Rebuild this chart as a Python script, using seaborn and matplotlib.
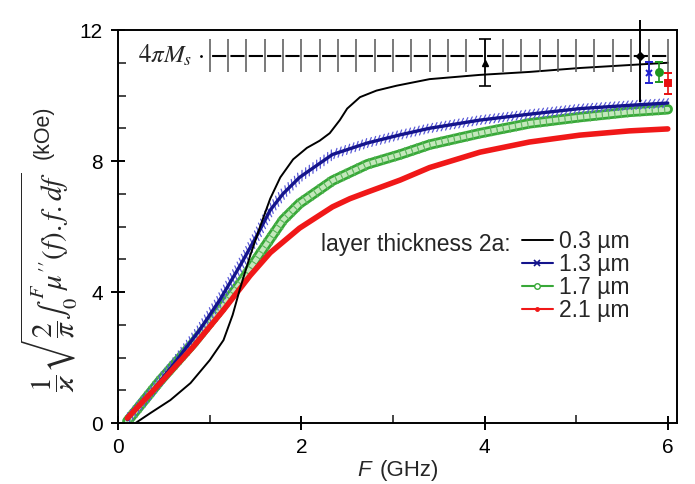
import numpy as np
import pandas as pd
import matplotlib
matplotlib.use("Agg")
import matplotlib.pyplot as plt
import matplotlib.patheffects as pe
from matplotlib.lines import Line2D
import seaborn as sns

# ---------------- data ----------------
bk_x = [0.19, 0.35, 0.57, 0.79, 1.0, 1.15, 1.25, 1.33, 1.44, 1.55, 1.66, 1.77, 1.91, 2.06, 2.2,
        2.31, 2.42, 2.5, 2.64, 2.82, 3.04, 3.4, 3.95, 4.49, 5.04, 5.58, 6.0]
bk_y = [0.0, 0.3, 0.7, 1.22, 1.92, 2.53, 3.3, 4.1, 5.1, 6.0, 6.85, 7.5, 8.05, 8.4, 8.62,
        8.85, 9.25, 9.6, 9.95, 10.15, 10.3, 10.5, 10.63, 10.72, 10.84, 10.93, 11.0]

bl_x = [0.1, 0.35, 0.64, 0.89, 1.11, 1.33, 1.52, 1.66, 1.8, 1.98, 2.34, 2.72, 3.08, 3.4, 3.95,
        4.49, 5.04, 5.58, 6.0]
bl_y = [0.1, 0.9, 1.92, 2.84, 3.76, 4.8, 5.75, 6.5, 7.0, 7.5, 8.2, 8.55, 8.8, 9.0, 9.25,
        9.43, 9.6, 9.7, 9.77]

gr_x = [0.1, 0.46, 0.82, 1.11, 1.36, 1.58, 1.8, 1.98, 2.34, 2.53, 2.72, 3.08, 3.4, 3.95, 4.49,
        5.04, 5.58, 6.0]
gr_y = [0.05, 1.3, 2.44, 3.45, 4.37, 5.3, 6.2, 6.7, 7.4, 7.65, 7.9, 8.2, 8.5, 8.85, 9.15,
        9.34, 9.5, 9.58]

rd_x = [0.1, 0.46, 0.82, 1.15, 1.44, 1.66, 1.98, 2.34, 2.53, 2.72, 3.08, 3.4, 3.95, 4.49, 5.04,
        5.58, 6.0]
rd_y = [0.15, 1.22, 2.33, 3.45, 4.5, 5.2, 5.95, 6.6, 6.85, 7.05, 7.42, 7.8, 8.27, 8.58, 8.79,
        8.92, 8.98]

labels = ["0.3 µm", "1.3 µm", "1.7 µm", "2.1 µm"]

# 4 pi Ms reference line
ms_x = [1.0, 1.2, 1.4, 1.6, 1.8, 2.0, 2.2, 2.4, 2.6, 2.8, 3.0, 3.2, 3.4, 3.6, 3.8, 4.0,
        4.2, 4.4, 4.6, 4.8, 5.0, 5.2, 5.4, 5.6, 5.8, 6.0]
ms_y = 11.22
ms_err = 0.5

# measured points with error bars
tri_x, tri_y, tri_err = 4.0, 11.0, 0.72
dia_x, dia_y, dia_lo, dia_hi = 5.7, 11.2, 1.4, 1.1
pt_x = [5.8, 5.9, 6.0]
pt_y = [10.7, 10.72, 10.37]
pt_err = [0.32, 0.3, 0.33]

# ---------------- style ----------------
sns.set_theme(style="ticks")
plt.rcParams["font.family"] = ["Liberation Sans", "DejaVu Sans"]
plt.rcParams["mathtext.fontset"] = "stix"
plt.rcParams["lines.scale_dashes"] = False

fig = plt.figure(figsize=(6.95, 4.84), dpi=100)
ax = fig.add_axes([0.170, 0.126, 0.804, 0.812])

c_bk = "black"
c_bl = "#14148c"
c_bl2 = "#5a5ad8"
c_gr = "#38a838"
c_gr2 = "#c4e8bc"
c_rd = "#f01818"

df_bk = pd.DataFrame({"F": bk_x, "v": bk_y})
df_bl = pd.DataFrame({"F": bl_x, "v": bl_y})
df_gr = pd.DataFrame({"F": gr_x, "v": gr_y})
df_rd = pd.DataFrame({"F": rd_x, "v": rd_y})

# green band (open circles)
sns.lineplot(data=df_gr, x="F", y="v", ax=ax, color=c_gr, lw=8, sort=True,
             path_effects=[pe.Stroke(linewidth=7.5, foreground=c_gr),
                           pe.Stroke(linewidth=3.5, foreground=c_gr2),
                           pe.TickedStroke(spacing=4.5, angle=90, length=0.8, linewidth=0.8, foreground="#5cb85c"),
                           pe.TickedStroke(spacing=4.5, angle=-90, length=0.8, linewidth=0.8, foreground="#5cb85c")])
# blue band (x markers)
sns.lineplot(data=df_bl, x="F", y="v", ax=ax, color=c_bl, lw=2.4, sort=True,
             path_effects=[pe.TickedStroke(spacing=3.2, angle=55, length=1.2, linewidth=0.9, foreground=c_bl2),
                           pe.TickedStroke(spacing=3.2, angle=-125, length=1.2, linewidth=0.9, foreground=c_bl2),
                           pe.Normal()])
# red
sns.lineplot(data=df_rd, x="F", y="v", ax=ax, color=c_rd, lw=4, sort=True)
# black
sns.lineplot(data=df_bk, x="F", y="v", ax=ax, color=c_bk, lw=1.4, sort=True)

# 4 pi Ms line
ax.errorbar(ms_x, [ms_y] * len(ms_x), yerr=ms_err, fmt="-", color="black", lw=1.5,
            ecolor="#555555", elinewidth=1.1, capsize=0,
            linestyle=(11.7, (10.2, 3.0)), zorder=4)
ax.text(0.22, ms_y, r"$4\pi M_s$", fontsize=18, va="center", ha="left")
ax.plot([0.9], [ms_y], marker=".", ms=2, color="black")

# measured points
ax.errorbar([tri_x], [tri_y], yerr=tri_err, fmt="^", color="black", ms=5, capsize=4,
            elinewidth=1.2, capthick=1.2, zorder=6)
ax.errorbar([dia_x], [dia_y], yerr=[[dia_lo], [dia_hi]], fmt="D", color="black", ms=4,
            capsize=0, elinewidth=1.4, zorder=6, clip_on=False)
mk = ["x", "o", "s"]
cols = ["#2020d0", "#1e961e", "#e81010"]
for xx, yy, ee, m, c in zip(pt_x, pt_y, pt_err, mk, cols):
    ax.errorbar([xx], [yy], yerr=ee, fmt=m, color=c, ms=5, capsize=3, elinewidth=1.2,
                capthick=1.2, mew=1.4, zorder=6)

# axes
ax.set_xlim(0, 6.1)
ax.set_ylim(0, 12)
ax.set_xticks([0, 2, 4, 6])
ax.set_xticks([1, 3, 5], minor=True)
ax.set_yticks([0, 4, 8, 12])
ax.set_yticks([1, 2, 3, 5, 6, 7, 9, 10, 11], minor=True)
ax.tick_params(which="major", direction="inout", length=10, width=1.4, labelsize=15,
               colors="black", pad=6)
ax.tick_params(which="minor", direction="in", length=6, width=1.2)
for s in ax.spines.values():
    s.set_linewidth(1.4)
    s.set_color("black")

ax.set_xlabel("")
ax.text(0.452, -0.095, "F", style="italic", fontsize=16, transform=ax.transAxes,
        ha="right", va="top")
ax.text(0.468, -0.095, "(GHz)", fontsize=16, transform=ax.transAxes, ha="left", va="top")

ax.set_ylabel(r"$\dfrac{1}{\varkappa}\sqrt{\dfrac{2}{\pi}\int_0^{F}\!\mu''(f).f.df}$",
              fontsize=21)
ax.yaxis.set_label_coords(-0.068, 0.36)
ax.text(-0.135, 0.74, "(kOe)", rotation=90, fontsize=15.5, transform=ax.transAxes,
        ha="center", va="center")

# legend
ax.text(0.363, 0.455, "layer thickness 2a:", transform=ax.transAxes, fontsize=16.5,
        ha="left", va="center")
handles = [
    Line2D([], [], color=c_bk, lw=1.4),
    Line2D([], [], color=c_bl, lw=1.5, marker="x", ms=5, mew=1.2),
    Line2D([], [], color=c_gr, lw=1.5, marker="o", ms=4, mfc="white", mew=1.0),
    Line2D([], [], color=c_rd, lw=1.5, marker="o", ms=2.5),
]
ax.legend(handles, labels, loc="upper left", bbox_to_anchor=(0.722, 0.49), frameon=False,
          fontsize=16.5, handlelength=1.35, handletextpad=0.3, labelspacing=0.0,
          borderpad=0, borderaxespad=0)

fig.savefig("out.png", dpi=100)
